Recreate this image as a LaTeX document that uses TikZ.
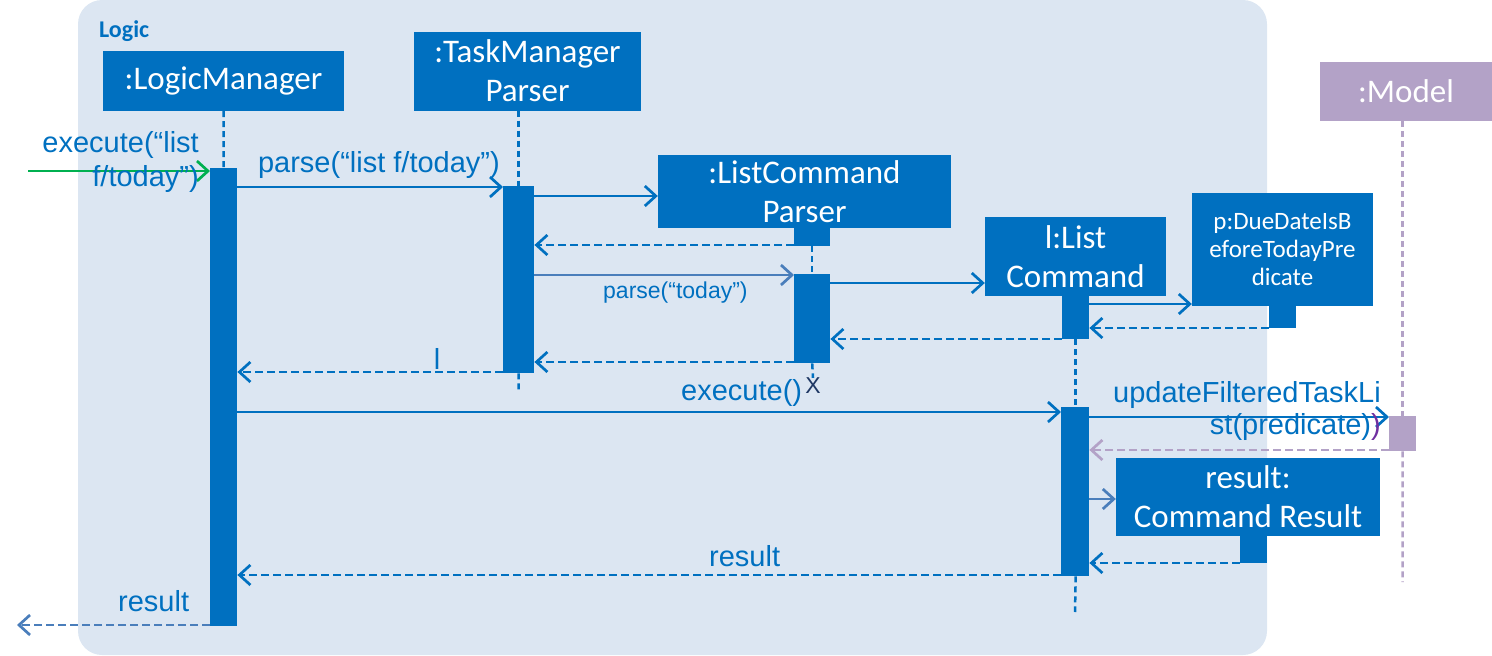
\documentclass[tikz,border=0pt]{standalone}
\usepackage{fontspec}
\setmainfont{Liberation Sans}
\newfontfamily\calfont{Carlito}
\usetikzlibrary{arrows.meta}
\definecolor{mblue}{HTML}{0070C0}
\definecolor{lblue}{HTML}{4A7EBB}
\definecolor{lav}{HTML}{B3A2C7}
\definecolor{bgblue}{HTML}{DCE6F2}
\definecolor{ggreen}{HTML}{00B050}
\definecolor{navy}{HTML}{1F3864}
\definecolor{purp}{HTML}{7030A0}
\begin{document}
\begin{tikzpicture}[x=1pt,y=-1pt,
  >={Straight Barb[length=11pt,width=20pt]},
  obj/.style={fill=mblue,text=white,inner sep=0pt,align=center,font=\calfont\fontsize{33}{39}\selectfont},
  act/.style={fill=mblue,inner sep=0pt,anchor=north west},
  life/.style={mblue,line width=2.5pt,dash pattern=on 6pt off 4pt},
  msg/.style={mblue,line width=2.7pt,->},
  ret/.style={mblue,line width=2.7pt,->,dash pattern=on 8pt off 4pt},
  lbl/.style={mblue,inner sep=0pt,font=\fontsize{29}{34}\selectfont},
]
\useasboundingbox (0,0) rectangle (1492,656);
% frame
\fill[bgblue,rounded corners=24pt] (78,0) rectangle (1267,655);
\node[anchor=base west,inner sep=0pt,text=mblue,font=\calfont\bfseries\fontsize{24}{28}\selectfont] (title) at (99,37) {Logic};

% objects
\node[obj,minimum width=241pt,minimum height=60pt] (lm) at (223.5,81) {:LogicManager};
\node[obj,minimum width=227pt,minimum height=79pt] (tp) at (527.5,71) {:TaskManager\\Parser};
\node[obj,minimum width=293pt,minimum height=73pt] (lcp) at (804.5,191.5) {:ListCommand\\Parser};
\node[obj,minimum width=181pt,minimum height=79pt] (lc) at (1075.5,256.5) {l:List\\Command};
\node[obj,minimum width=181pt,minimum height=113pt,font=\calfont\fontsize{25}{28}\selectfont] (pred) at (1282.5,249.5) {p:DueDateIsB\\eforeTodayPre\\dicate};
\node[obj,fill=lav,minimum width=172pt,minimum height=59pt] (mdl) at (1406,91.5) {:Model};
\node[obj,minimum width=264pt,minimum height=78pt] (cr) at (1248,497) {result:\\Command Result};

% activation bars
\node[act,minimum width=27pt,minimum height=458pt] (lmAct) at (210,168) {};
\node[act,minimum width=31pt,minimum height=187pt] (tpAct) at (503,186) {};
\node[act,minimum width=36pt,minimum height=18pt] (lcpAct1) at (794,228) {};
\node[act,minimum width=36pt,minimum height=89pt] (lcpAct2) at (794,274) {};
\node[act,minimum width=27pt,minimum height=43pt] (lcAct1) at (1062,296) {};
\node[act,minimum width=28pt,minimum height=169pt] (lcAct2) at (1061,407) {};
\node[act,minimum width=27pt,minimum height=23pt] (predAct) at (1269,305) {};
\node[act,fill=lav,minimum width=27pt,minimum height=35pt] (mAct) at (1389,416) {};
\node[act,minimum width=27pt,minimum height=27pt] (crAct) at (1240,536) {};

% lifeline ends
\coordinate (tpEnd) at (518.5,390);
\coordinate (lcEnd) at (1075,612);
\coordinate (mEnd) at (1402.5,582);
\node[inner sep=0pt,text=navy,font=\fontsize{23}{26}\selectfont] (destroy) at (813,386) {X};

% lifelines
\draw[life] (lm.south) -- (lmAct.north);
\draw[life] (tp.south -| tpAct.north) -- (tpAct.north);
\draw[life] (tpAct.south) -- (tpEnd);
\draw[life] (lcpAct1.south) -- (lcpAct2.north);
\draw[life] (lcpAct2.south) -- (destroy.north);
\draw[life] (lcAct1.south) -- (lcAct2.north -| lcAct1.south);
\draw[life] (lcAct2.south -| lcAct1.south) -- (lcEnd);
\draw[life,lav] (mdl.south -| mAct.north) -- (mAct.north);
\draw[life,lav] (mAct.south) -- (mEnd);

% y levels
\coordinate (y171) at (0,171);
\coordinate (y187) at (0,187);
\coordinate (y196) at (0,196);
\coordinate (y245) at (0,245);
\coordinate (y275) at (0,275);
\coordinate (y283) at (0,283);
\coordinate (y304) at (0,304);
\coordinate (y328) at (0,328);
\coordinate (y339) at (0,339);
\coordinate (y362) at (0,362);
\coordinate (y372) at (0,372);
\coordinate (y412) at (0,412);
\coordinate (y417) at (0,417);
\coordinate (y450) at (0,450);
\coordinate (y499) at (0,499);
\coordinate (y563) at (0,563);
\coordinate (y575) at (0,575);
\coordinate (y625) at (0,625);
\coordinate (inStart) at (28,171);
\coordinate (outEnd) at (17,625);

% messages
\draw[msg,ggreen] (inStart) -- (lmAct.west |- y171);
\node[lbl,align=right,anchor=east] (l0) at (199,162) {execute(“list\\f/today”)};
\draw[msg] (lmAct.east |- y187) -- (tpAct.west |- y187);
\node[lbl,anchor=base east] (l1) at (500,172) {parse(“list f/today”)};
\draw[msg] (tpAct.east |- y196) -- (lcp.west |- y196);
\draw[ret] (lcpAct1.west |- y245) -- (tpAct.east |- y245);
\draw[msg,lblue] (tpAct.east |- y275) -- (lcpAct2.west |- y275);
\node[lbl,anchor=base west,font=\fontsize{23}{27}\selectfont] (l2) at (603,298) {parse(“today”)};
\draw[msg] (lcpAct2.east |- y283) -- (lc.west |- y283);
\draw[msg] (lcAct1.east |- y304) -- (pred.west |- y304);
\draw[ret] (predAct.west |- y328) -- (lcAct1.east |- y328);
\draw[ret] (lcAct1.west |- y339) -- (lcpAct2.east |- y339);
\draw[ret] (lcpAct2.west |- y362) -- (tpAct.east |- y362);
\draw[ret] (tpAct.west |- y372) -- (lmAct.east |- y372);
\node[lbl,anchor=base] (l3) at (437,369) {l};
\draw[msg] (lmAct.east |- y412) -- (lcAct2.west |- y412);
\node[lbl,anchor=base west] (l4) at (681,400) {execute()};
\draw[msg] (lcAct2.east |- y417) -- (mAct.west |- y417);
\node[lbl,align=right,anchor=east,font=\fontsize{29}{32}\selectfont] (l5) at (1381,411) {updateFilteredTaskLi\\st(predicate)\textcolor{purp}{)}};
\draw[ret,lav] (mAct.west |- y450) -- (lcAct2.east |- y450);
\draw[msg,lblue] (lcAct2.east |- y499) -- (cr.west |- y499);
\draw[ret] (crAct.west |- y563) -- (lcAct2.east |- y563);
\draw[ret] (lcAct2.west |- y575) -- (lmAct.east |- y575);
\node[lbl,anchor=base west] (l6) at (709,566) {result};
\draw[ret,lblue] (lmAct.west |- y625) -- (outEnd);
\node[lbl,anchor=base west] (l7) at (118,611) {result};
\end{tikzpicture}
\end{document}
